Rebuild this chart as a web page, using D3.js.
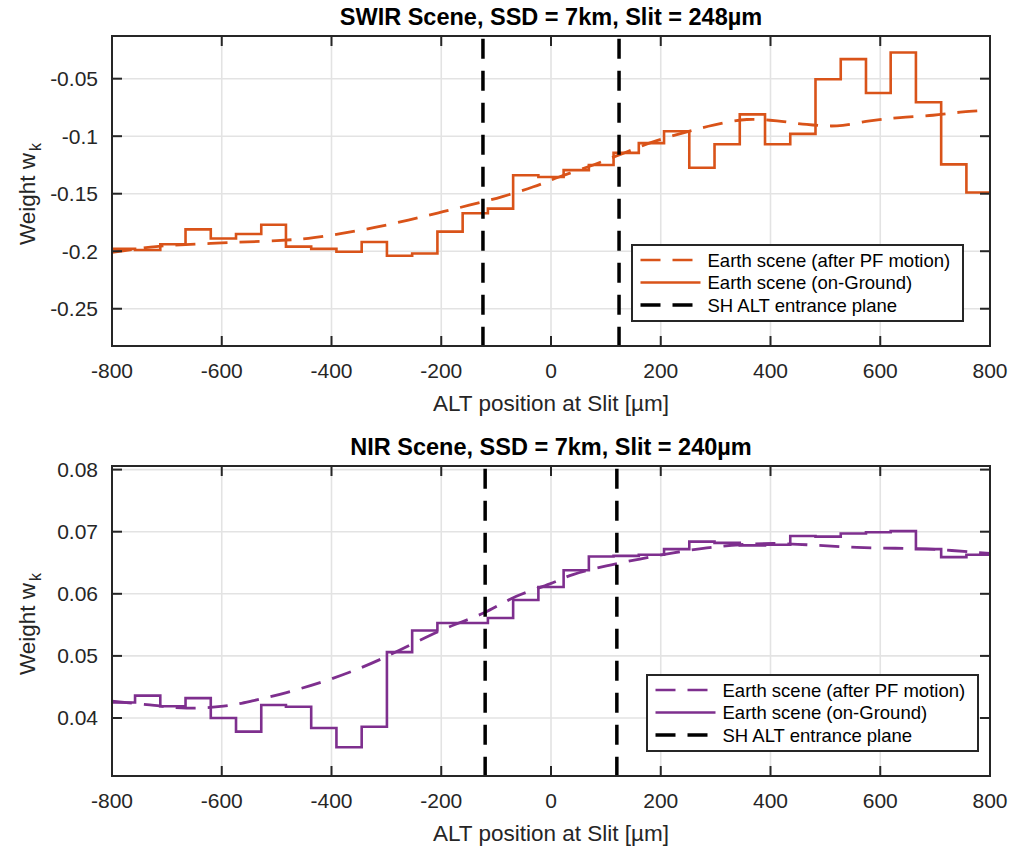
<!DOCTYPE html>
<html>
  <head>
    <meta charset="UTF-8" />
    <style>
      body { margin: 0; background: #fff; }
      text { font-family: 'Liberation Sans', Arial, sans-serif; }
    </style>
  </head>
  <body>
    <svg></svg>

    <script src="https://d3js.org/d3.v7.min.js"></script>

    <script>
      let width = 1009,
        height = 847

      // step edges (µm), same grid for both scenes
      const stepEdges = [-800, -758, -712, -666, -620, -574, -528, -483, -437, -391, -345, -299, -253, -207, -161, -115, -69, -23,
        23, 69, 114, 160, 206, 252, 298, 344, 390, 436, 482, 528, 574, 619, 665, 711, 757]

      // SWIR scene
      const swirGround = [-0.198, -0.199, -0.194, -0.181, -0.189, -0.185, -0.177, -0.196, -0.198, -0.2005, -0.192, -0.204, -0.202,
        -0.183, -0.167, -0.163, -0.134, -0.1355, -0.1295, -0.125, -0.1145, -0.106, -0.0957, -0.1275, -0.107, -0.081, -0.107,
        -0.098, -0.0505, -0.033, -0.0625, -0.0273, -0.0705, -0.1245, -0.149]
      const swirPfX = [-800, -720, -620, -500, -442, -381, -321, -260, -205, -149, -90, -32, 16, 77, 131, 186, 241, 296, 357, 412,
        466, 521, 581, 636, 696, 751, 800]
      const swirPfY = [-0.201, -0.196, -0.1932, -0.1908, -0.1888, -0.1845, -0.1793, -0.1729, -0.1666, -0.16, -0.1527, -0.144,
        -0.1353, -0.125, -0.115, -0.105, -0.0971, -0.0904, -0.0855, -0.0867, -0.0898, -0.091, -0.0867, -0.0838, -0.0818,
        -0.0789, -0.0774]

      // NIR scene
      const nirGround = [0.0425, 0.0436, 0.0419, 0.0432, 0.04, 0.0378, 0.0421, 0.0418, 0.0384, 0.0353, 0.0386, 0.0506, 0.0541,
        0.0553, 0.0553, 0.0561, 0.059, 0.0611, 0.0638, 0.066, 0.0661, 0.0663, 0.0672, 0.0684, 0.0682, 0.0678, 0.0679, 0.0693,
        0.0692, 0.0697, 0.0699, 0.0701, 0.0672, 0.0659, 0.0663]
      const nirPfX = [-800, -731, -664, -597, -542, -482, -421, -366, -312, -251, -190, -123, -63, -2, 40, 101, 162, 223, 284, 344,
        405, 466, 527, 587, 648, 709, 770, 800]
      const nirPfY = [0.0427, 0.0421, 0.0416, 0.0419, 0.0428, 0.0441, 0.0457, 0.0474, 0.0494, 0.052, 0.0545, 0.0569, 0.0596,
        0.0616, 0.0631, 0.0645, 0.0656, 0.0666, 0.0674, 0.0679, 0.0681, 0.0679, 0.0676, 0.0674, 0.0673, 0.0671, 0.0667, 0.0665]

      const xTicks = [-800, -600, -400, -200, 0, 200, 400, 600, 800]
      const swirYTicks = [-0.25, -0.2, -0.15, -0.1, -0.05]
      const swirYLabels = ['-0.25', '-0.2', '-0.15', '-0.1', '-0.05']
      const nirYTicks = [0.04, 0.05, 0.06, 0.07, 0.08]
      const nirYLabels = ['0.04', '0.05', '0.06', '0.07', '0.08']

      const legendLabels = ['Earth scene (after PF motion)', 'Earth scene (on-Ground)', 'SH ALT entrance plane']

      let svg = d3.select('svg').attr('width', width).attr('height', height)

      const axisColor = '#262626'
      const gridColor = '#e3e3e3'

      function drawPanel(opt) {
        let left = 112,
          right = 990,
          top = opt.top,
          bottom = opt.top + 310

        let x = d3.scaleLinear().domain([-800, 800]).range([left, right])
        let y = d3.scaleLinear().domain(opt.yDomain).range([bottom, top])

        let g = svg.append('g')

        g.append('clipPath')
          .attr('id', opt.id)
          .append('rect')
          .attr('x', left)
          .attr('y', top)
          .attr('width', right - left)
          .attr('height', bottom - top)

        // grid
        g.append('g')
          .selectAll('line')
          .data(xTicks)
          .enter()
          .append('line')
          .attr('x1', (d) => x(d))
          .attr('x2', (d) => x(d))
          .attr('y1', top)
          .attr('y2', bottom)
          .attr('stroke', gridColor)
          .attr('stroke-width', 1.6)
        g.append('g')
          .selectAll('line')
          .data(opt.yTicks)
          .enter()
          .append('line')
          .attr('x1', left)
          .attr('x2', right)
          .attr('y1', (d) => y(d))
          .attr('y2', (d) => y(d))
          .attr('stroke', gridColor)
          .attr('stroke-width', 1.6)

        let plot = g.append('g').attr('clip-path', 'url(#' + opt.id + ')')

        // PF motion (dashed curve)
        let pf = opt.pfX.map((d, i) => [d, opt.pfY[i]])
        plot
          .append('path')
          .datum(pf)
          .attr('fill', 'none')
          .attr('stroke', opt.color)
          .attr('stroke-width', 2.8)
          .attr('stroke-dasharray', '20,12')
          .attr(
            'd',
            d3
              .line()
              .x((d) => x(d[0]))
              .y((d) => y(d[1]))
              .curve(d3.curveCatmullRom)
          )

        // on-ground (stairs)
        let st = stepEdges.map((d, i) => [d, opt.ground[i]])
        st.push([800, opt.ground[opt.ground.length - 1]])
        plot
          .append('path')
          .datum(st)
          .attr('fill', 'none')
          .attr('stroke', opt.color)
          .attr('stroke-width', 2.6)
          .attr(
            'd',
            d3
              .line()
              .x((d) => x(d[0]))
              .y((d) => y(d[1]))
              .curve(d3.curveStepAfter)
          )

        // entrance plane
        plot
          .append('g')
          .selectAll('line')
          .data([-opt.slit / 2, opt.slit / 2])
          .enter()
          .append('line')
          .attr('x1', (d) => x(d))
          .attr('x2', (d) => x(d))
          .attr('y1', top + 2.7)
          .attr('y2', bottom)
          .attr('stroke', '#000')
          .attr('stroke-width', 3.5)
          .attr('stroke-dasharray', '20,12')

        // box + ticks
        g.append('rect')
          .attr('x', left)
          .attr('y', top)
          .attr('width', right - left)
          .attr('height', bottom - top)
          .attr('fill', 'none')
          .attr('stroke', axisColor)
          .attr('stroke-width', 2)

        let tl = 10
        let ticks = g.append('g').attr('stroke', axisColor).attr('stroke-width', 2)
        xTicks.forEach((t) => {
          ticks.append('line').attr('x1', x(t)).attr('x2', x(t)).attr('y1', bottom).attr('y2', bottom - tl)
          ticks.append('line').attr('x1', x(t)).attr('x2', x(t)).attr('y1', top).attr('y2', top + tl)
        })
        opt.yTicks.forEach((t) => {
          ticks.append('line').attr('x1', left).attr('x2', left + tl).attr('y1', y(t)).attr('y2', y(t))
          ticks.append('line').attr('x1', right).attr('x2', right - tl).attr('y1', y(t)).attr('y2', y(t))
        })

        // tick labels
        g.append('g')
          .selectAll('text')
          .data(xTicks)
          .enter()
          .append('text')
          .attr('x', (d) => x(d))
          .attr('y', bottom + 32)
          .attr('text-anchor', 'middle')
          .attr('font-size', 21)
          .attr('fill', axisColor)
          .text((d) => d)
        g.append('g')
          .selectAll('text')
          .data(opt.yTicks)
          .enter()
          .append('text')
          .attr('x', left - 14)
          .attr('y', (d) => y(d) + 7.5)
          .attr('text-anchor', 'end')
          .attr('font-size', 21)
          .attr('fill', axisColor)
          .text((d, i) => opt.yLabels[i])

        // axis labels and title
        g.append('text')
          .attr('x', (left + right) / 2)
          .attr('y', bottom + 65)
          .attr('text-anchor', 'middle')
          .attr('font-size', 22.5)
          .attr('fill', axisColor)
          .text('ALT position at Slit [µm]')

        let yl = g
          .append('text')
          .attr('transform', 'translate(35,' + ((top + bottom) / 2 + 3) + ') rotate(-90)')
          .attr('text-anchor', 'middle')
          .attr('font-size', 22.5)
          .attr('fill', axisColor)
        yl.append('tspan').text('Weight w')
        yl.append('tspan').attr('dx', 2).attr('dy', 6).attr('font-size', 16).text('k')

        g.append('text')
          .attr('x', (left + right) / 2)
          .attr('y', top - 11)
          .attr('text-anchor', 'middle')
          .attr('font-size', 23.5)
          .attr('font-weight', 'bold')
          .attr('fill', '#000')
          .text(opt.title)

        // legend
        let lg = g.append('g').attr('transform', 'translate(' + opt.legendX + ',' + (bottom - 101) + ')')
        lg.append('rect')
          .attr('width', 331)
          .attr('height', 76)
          .attr('fill', '#fff')
          .attr('stroke', axisColor)
          .attr('stroke-width', 2)
        let items = [
          { c: opt.color, dash: '20,12' },
          { c: opt.color, dash: null },
          { c: '#000', dash: '20,12' },
        ]
        items.forEach((it, i) => {
          let yy = 15 + i * 22.5
          lg.append('line')
            .attr('x1', 8.5)
            .attr('x2', 68.5)
            .attr('y1', yy)
            .attr('y2', yy)
            .attr('stroke', it.c)
            .attr('stroke-width', i == 2 ? 3.5 : 2.6)
            .attr('stroke-dasharray', it.dash)
          lg.append('text')
            .attr('x', 75.5)
            .attr('y', yy + 6.5)
            .attr('font-size', 18.5)
            .attr('fill', '#000')
            .text(legendLabels[i])
        })
      }

      drawPanel({
        id: 'clipSwir',
        top: 36,
        yDomain: [-0.2824, -0.0129],
        yTicks: swirYTicks,
        yLabels: swirYLabels,
        ground: swirGround,
        pfX: swirPfX,
        pfY: swirPfY,
        slit: 248,
        color: '#D95319',
        title: 'SWIR Scene, SSD = 7km, Slit = 248µm',
        legendX: 632,
      })

      drawPanel({
        id: 'clipNir',
        top: 466,
        yDomain: [0.03066, 0.08058],
        yTicks: nirYTicks,
        yLabels: nirYLabels,
        ground: nirGround,
        pfX: nirPfX,
        pfY: nirPfY,
        slit: 240,
        color: '#7E2F8E',
        title: 'NIR Scene, SSD = 7km, Slit = 240µm',
        legendX: 647,
      })
    </script>
  </body>
</html>
